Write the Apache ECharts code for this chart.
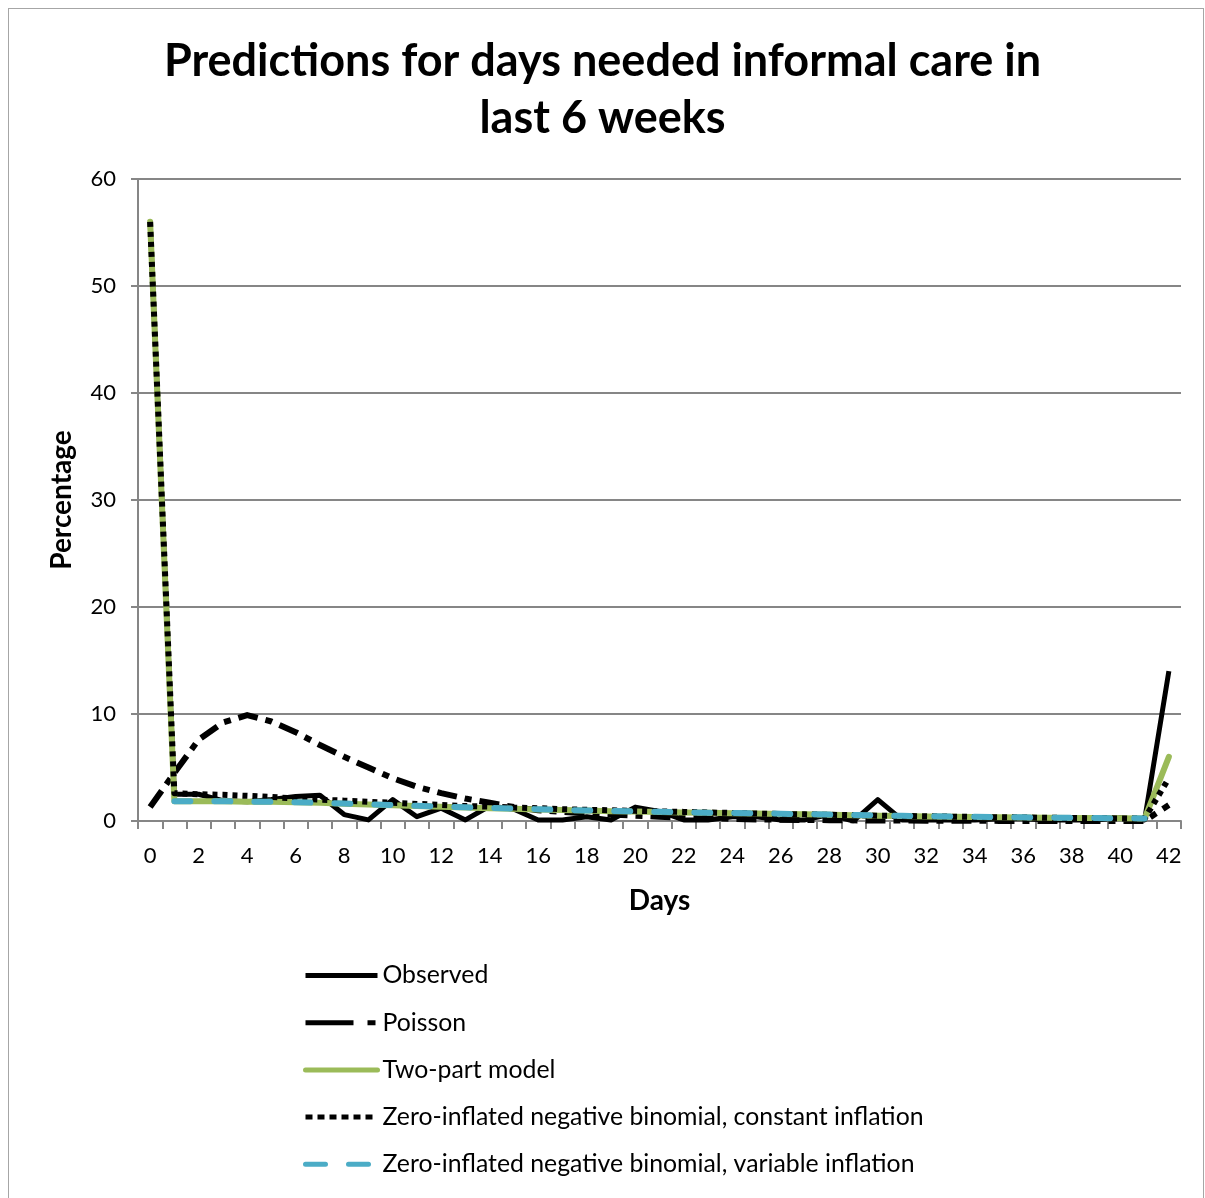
<!DOCTYPE html>
<html>
<head>
<meta charset="utf-8">
<script src="https://cdn.jsdelivr.net/npm/echarts@6/dist/echarts.min.js"></script>
<style>
html,body{margin:0;padding:0;background:#fff;}
#frame{position:absolute;left:8px;top:8px;width:1196px;height:1200px;border:1px solid #a6a6a6;box-sizing:border-box;}
#chart{position:absolute;left:0;top:0;width:1205px;height:1198px;}
</style>
</head>
<body>
<div id="frame"></div>
<div id="chart"></div>
<script>
var titleText = "Predictions for days needed informal care in\nlast 6 weeks";
var days = ["0","1","2","3","4","5","6","7","8","9","10","11","12","13","14","15","16","17","18","19","20","21","22","23","24","25","26","27","28","29","30","31","32","33","34","35","36","37","38","39","40","41","42"];
var seriesNames = ["Observed","Poisson","Two-part model","Zero-inflated negative binomial, constant inflation","Zero-inflated negative binomial, variable inflation"];
var observed = [56.0,2.5,2.5,1.9,1.8,2.0,2.3,2.4,0.6,0.1,2.0,0.4,1.2,0.1,1.4,1.1,0.1,0.1,0.4,0.1,1.3,0.9,0.1,0.1,0.4,0.4,0.1,0.1,0.6,0.0,2.0,0.1,0.1,0.1,0.1,0.2,0.2,0.1,0.1,0.1,0.3,0.1,14.0];
var poisson = [1.3,4.5,7.6,9.2,9.9,9.3,8.3,7.1,6.0,5.0,4.0,3.2,2.6,2.1,1.7,1.3,1.0,0.85,0.7,0.6,0.5,0.4,0.3,0.25,0.2,0.15,0.12,0.1,0.08,0.06,0.05,0.04,0.03,0.02,0.02,0.01,0.01,0.01,0.01,0.01,0.01,0.01,1.5];
var twoPart = [56.0,1.85,1.85,1.85,1.8,1.8,1.75,1.7,1.62,1.55,1.48,1.4,1.33,1.26,1.2,1.14,1.08,1.02,0.97,0.92,0.88,0.84,0.8,0.76,0.73,0.7,0.66,0.62,0.58,0.54,0.5,0.46,0.43,0.4,0.37,0.35,0.33,0.31,0.29,0.27,0.25,0.23,6.0];
var zinbConstant = [56.0,2.6,2.5,2.45,2.35,2.25,2.1,2.0,1.9,1.8,1.7,1.6,1.5,1.4,1.35,1.25,1.2,1.1,1.05,1.0,0.95,0.9,0.85,0.8,0.75,0.7,0.65,0.62,0.58,0.55,0.5,0.47,0.44,0.41,0.38,0.35,0.33,0.3,0.28,0.26,0.24,0.22,4.0];
var zinbVariable = [null,1.85,1.85,1.85,1.8,1.8,1.75,1.7,1.63,1.56,1.49,1.42,1.35,1.28,1.22,1.16,1.1,1.04,0.99,0.94,0.9,0.86,0.82,0.78,0.75,0.72,0.68,0.64,0.6,0.56,0.52,0.48,0.45,0.42,0.39,0.36,0.34,0.32,0.3,0.28,0.26,0.24,null];
var yTicks = {min:0, max:60, interval:10};

var FONT = "Lato";
var styles = [
  {color:'#000000', width:5, type:'solid', cap:'butt'},
  {color:'#000000', width:6, type:[20,8,7,8], cap:'butt'},
  {color:'#9BBB59', width:6, type:'solid', cap:'round'},
  {color:'#000000', width:6, type:[5,5], cap:'butt'},
  {color:'#4BACC6', width:6, type:[16,24], cap:'round'}
];
var legendStyles = [
  {color:'#000000', width:5, type:'solid', cap:'butt'},
  {color:'#000000', width:5, type:[48,14,8,20], cap:'butt'},
  {color:'#9BBB59', width:5, type:'solid', cap:'round'},
  {color:'#000000', width:5, type:[7,5], cap:'butt'},
  {color:'#4BACC6', width:5, type:[20,23], cap:'round'}
];
var chart = echarts.init(document.getElementById('chart'), null, {renderer:'canvas'});
var series = seriesNames.map(function(n,i){
  var data = [observed, poisson, twoPart, zinbConstant, zinbVariable][i];
  return {name:n, type:'line', data:data, symbol:'none', showSymbol:false,
    lineStyle:{color:styles[i].color, width:styles[i].width, type:styles[i].type, cap:styles[i].cap, join:'round'},
    itemStyle:{color:styles[i].color}, emphasis:{disabled:true}, animation:false};
});
chart.setOption({
  animation:false,
  title:{text:titleText, left:'center', top:28, itemGap:0, padding:[5,5,5,18],
    textStyle:{fontFamily:FONT, fontWeight:'bold', fontSize:45, color:'#000', lineHeight:57}},
  grid:{left:138, right:24, top:179, bottom:377, containLabel:false},
  legend:{orient:'vertical', left:303, top:963, padding:0, itemWidth:72, itemHeight:26, itemGap:22.2,
    selectedMode:false,
    itemStyle:{opacity:0},
    data:seriesNames.map(function(n,i){ return {name:n, itemStyle:{opacity:0, color:'rgba(0,0,0,0)', borderWidth:0}, lineStyle:legendStyles[i]}; }),
    textStyle:{fontFamily:FONT, fontSize:24.8, color:'#000', padding:[0,0,0,0]}},
  xAxis:{type:'category', data:days, boundaryGap:true,
    name:'Days', nameLocation:'middle', nameGap:66,
    nameTextStyle:{fontFamily:FONT, fontWeight:'bold', fontSize:28, color:'#000'},
    axisLine:{lineStyle:{color:'#868686', width:2}},
    axisTick:{show:true, interval:0, length:8, alignWithLabel:false, lineStyle:{color:'#868686', width:2}},
    axisLabel:{interval:1, fontFamily:FONT, fontSize:22, color:'#000', margin:24},
    splitLine:{show:false}},
  yAxis:{type:'value', min:yTicks.min, max:yTicks.max, interval:yTicks.interval,
    name:'Percentage', nameLocation:'middle', nameGap:62, nameRotate:90,
    nameTextStyle:{fontFamily:FONT, fontWeight:'bold', fontSize:28, color:'#000'},
    axisLine:{show:true, lineStyle:{color:'#868686', width:2}},
    axisTick:{show:true, length:7, lineStyle:{color:'#868686', width:2}},
    axisLabel:{fontFamily:FONT, fontSize:22, color:'#000', margin:22},
    splitLine:{show:true, lineStyle:{color:'#868686', width:2}}},
  series:series
});
</script>
</body>
</html>
